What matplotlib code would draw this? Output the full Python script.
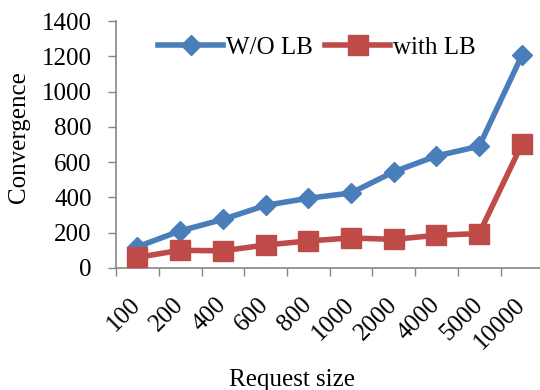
import matplotlib
matplotlib.use("Agg")
import matplotlib.pyplot as plt
import numpy as np

request_sizes = ["100", "200", "400", "600", "800", "1000", "2000", "4000", "5000", "10000"]
without_lb = [120, 210, 275, 355, 395, 425, 545, 635, 690, 1205]
with_lb = [60, 100, 97, 130, 153, 170, 162, 185, 195, 702]
y_ticks = [0, 200, 400, 600, 800, 1000, 1200, 1400]

plt.rcParams["font.family"] = ["Liberation Serif", "DejaVu Serif"]

fig = plt.figure(figsize=(5.4, 3.9), dpi=100)
ax = fig.add_axes([0.215, 0.313, 0.791, 0.633])

x = np.arange(len(request_sizes))
blue = "#4A7EBB"
red = "#BE4B48"

ax.plot(x, without_lb, color=blue, lw=4, marker="D", markersize=10,
        markerfacecolor=blue, markeredgecolor=blue, label="W/O LB", zorder=3)
ax.plot(x, with_lb, color=red, lw=4, marker="s", markersize=14,
        markerfacecolor=red, markeredgecolor=red, label="with LB", zorder=4)

ax.set_xlim(-0.5, len(request_sizes) - 0.5)
ax.set_ylim(0, 1400)
ax.set_yticks(y_ticks)
ax.set_yticklabels([str(v) for v in y_ticks], fontsize=18)

# category labels at centres, tick marks at category boundaries
ax.set_xticks(x)
ax.set_xticklabels(request_sizes, rotation=45, ha="right", va="center",
                   rotation_mode="anchor", fontsize=18)
ax.set_xticks(np.arange(-0.5, len(request_sizes) - 0.5, 1.0), minor=True)
ax.tick_params(axis="x", which="major", length=0, pad=24)
ax.tick_params(axis="x", which="minor", length=5.5, color="#868686", width=1)
ax.tick_params(axis="y", length=5.5, color="#868686", width=1, pad=12)

for side in ("top", "right"):
    ax.spines[side].set_visible(False)
for side in ("left", "bottom"):
    ax.spines[side].set_color("#868686")
    ax.spines[side].set_linewidth(1.2)

ax.set_ylabel("Convergence", fontsize=18)
ax.yaxis.set_label_coords(-0.202, 0.53)
ax.set_xlabel("Request size", fontsize=18, labelpad=11)
ax.xaxis.label.set_x(0.412)

ax.legend(loc="upper center", bbox_to_anchor=(0.47, 1.0), ncol=2, frameon=False,
          fontsize=18, handlelength=2.6, columnspacing=0.5, handletextpad=0.1,
          borderaxespad=0.2)

fig.savefig("out.png", dpi=100)
